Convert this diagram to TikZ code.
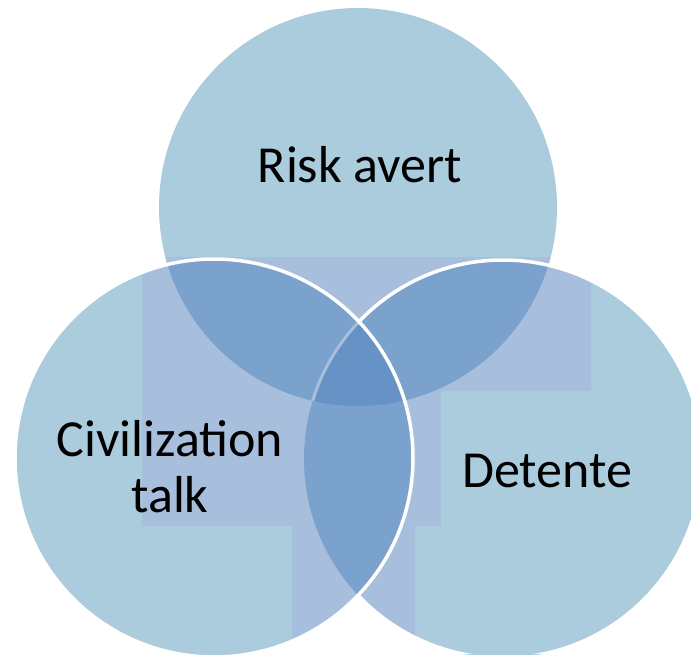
\documentclass[tikz,border=0pt]{standalone}
\usepackage{fontspec}
\setmainfont{Carlito}
\definecolor{vennfill}{HTML}{AACCDD}
\definecolor{vennbox}{HTML}{A7BFDD}
\definecolor{vennpair}{HTML}{7BA2CD}
\definecolor{venncore}{HTML}{6792C5}

\begin{document}
\begin{tikzpicture}[x=1pt,y=-1pt,
  lbl/.style={font=\fontsize{52}{56}\selectfont,align=center,text=black}]
\useasboundingbox (0,0) rectangle (691,654);
\clip (0,0) rectangle (691,654);
\def\rad{199pt}
\coordinate (T) at (358,207);
\coordinate (L) at (214,458);
\coordinate (R) at (503,459);
% circles
\fill[vennfill] (T) circle[radius=\rad] (L) circle[radius=\rad] (R) circle[radius=\rad];
% boxes behind the labels
\begin{scope}
\clip (T) circle[radius=\rad] (L) circle[radius=\rad] (R) circle[radius=\rad];
\fill[vennbox] (142,257) -- (591,257) -- (591,391) -- (441,391) -- (441,526) -- (415,526)
  -- (415,654) -- (292,654) -- (292,526) -- (142,526) -- cycle;
\end{scope}
% overlaps
\begin{scope}
\clip (T) circle[radius=\rad];
\fill[vennpair] (L) circle[radius=\rad] (R) circle[radius=\rad];
\end{scope}
\begin{scope}
\clip (L) circle[radius=\rad];
\fill[vennpair] (R) circle[radius=\rad];
\end{scope}
\begin{scope}
\clip (T) circle[radius=\rad];
\clip (L) circle[radius=\rad];
\fill[venncore] (R) circle[radius=\rad];
\draw[vennbox,line width=3pt] (R) circle[radius=\rad];
\end{scope}
% outlines
\begin{scope}[even odd rule]
\clip (0,0) rectangle (691,654) (L) circle[radius=\rad];
\draw[white,line width=3.5pt] (R) circle[radius=\rad];
\end{scope}
\draw[white,line width=3.5pt] (L) circle[radius=\rad];
% labels
\node[lbl,anchor=base] (risk) at (360,182) {Risk avert};
\node[lbl] (civ) at (170,467) {Civilization\\talk};
\node[lbl,anchor=base] (det) at (547,487) {Detente};
\end{tikzpicture}
\end{document}
